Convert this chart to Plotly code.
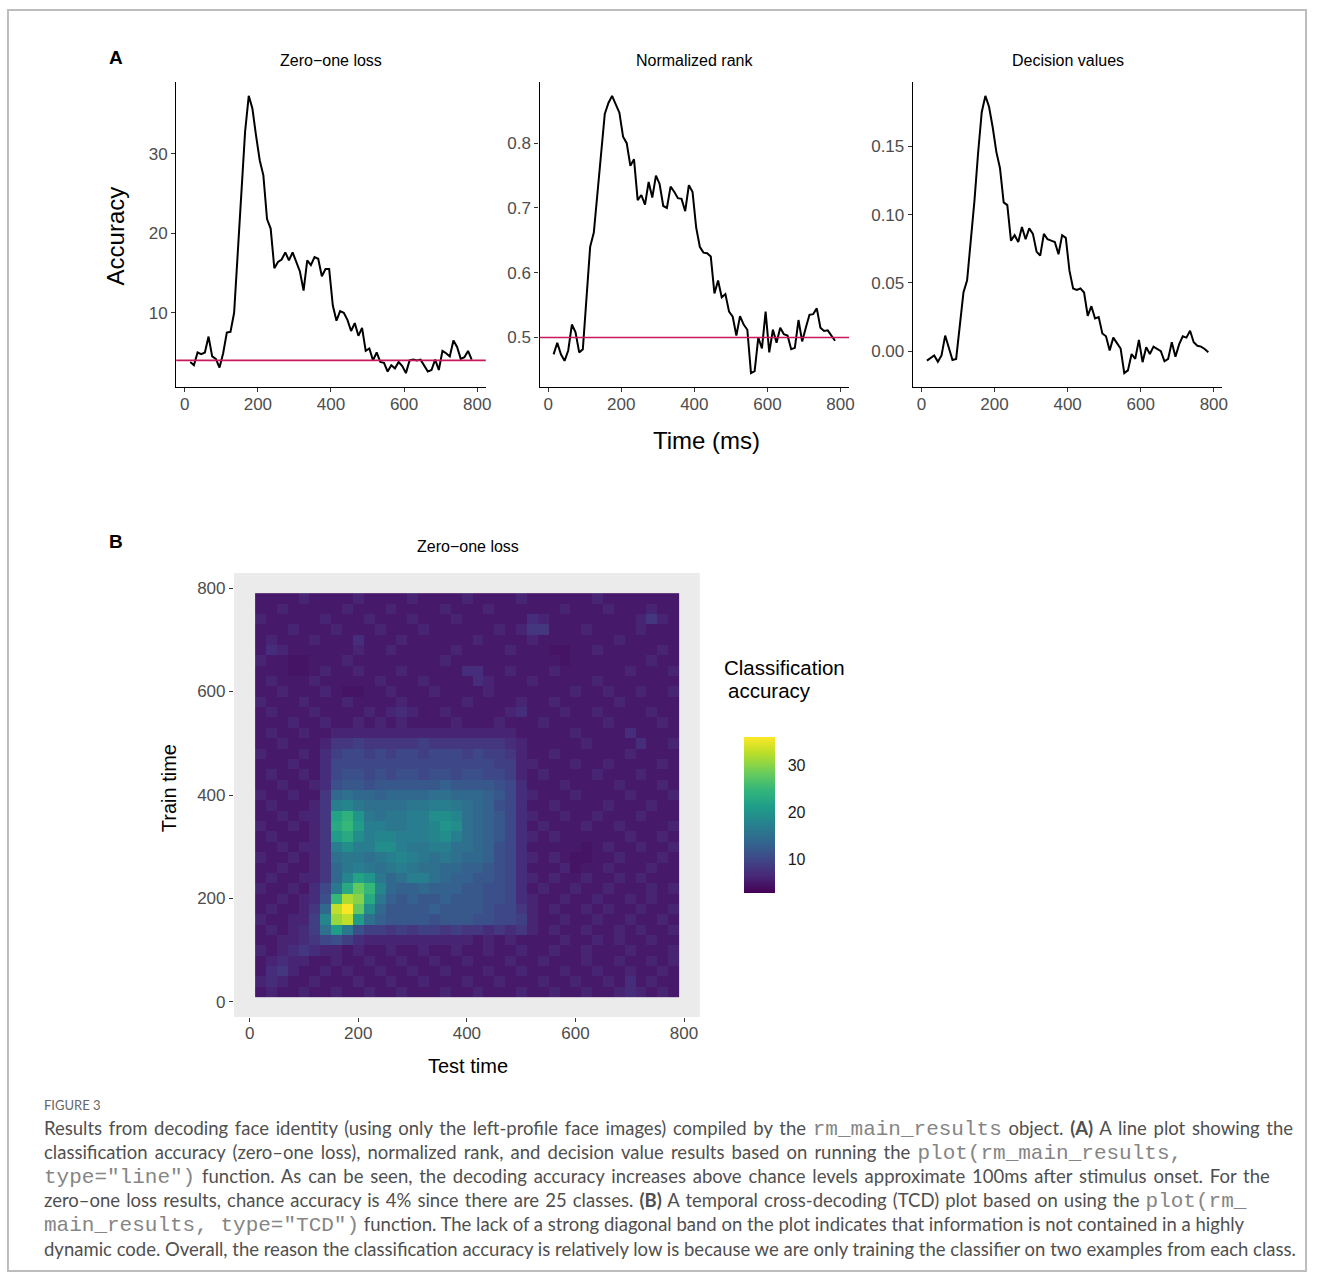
import plotly.graph_objects as go

W, H = 1320, 1280

# ---------------------------------------------------------------- data
# decoding time bins (ms, bin centres)
times = list(range(15, 790, 10))

zero_one_loss = [
    3.8, 3.4, 5.0, 4.8, 5.0, 7.0, 4.5, 4.2, 3.1, 4.9,
    7.5, 7.6, 10.0, 17.5, 26.0, 32.8, 37.3, 35.7, 32.3, 29.2,
    27.3, 21.8, 20.6, 15.6, 16.4, 16.7, 17.6, 16.6, 17.6, 16.5,
    15.2, 12.8, 16.6, 16.0, 17.0, 16.8, 14.6, 15.5, 15.5, 10.9,
    9.0, 10.2, 10.0, 9.1, 7.7, 8.7, 7.1, 8.1, 5.2, 5.5,
    4.0, 5.0, 3.8, 3.7, 2.6, 3.4, 3.0, 3.8, 3.3, 2.4,
    4.0, 4.1, 4.0, 4.1, 3.4, 2.6, 2.8, 4.1, 2.8, 5.2,
    4.9, 4.5, 6.5, 5.7, 4.2, 4.4, 5.2, 4.1,
]

normalized_rank = [
    0.474, 0.492, 0.474, 0.464, 0.480, 0.520, 0.508, 0.477, 0.482, 0.570,
    0.640, 0.662, 0.720, 0.790, 0.845, 0.862, 0.873, 0.860, 0.847, 0.810,
    0.800, 0.765, 0.775, 0.712, 0.720, 0.705, 0.740, 0.716, 0.750, 0.737,
    0.703, 0.700, 0.733, 0.725, 0.715, 0.714, 0.695, 0.735, 0.725, 0.670,
    0.640, 0.631, 0.630, 0.625, 0.568, 0.588, 0.562, 0.567, 0.540, 0.532,
    0.503, 0.533, 0.520, 0.512, 0.445, 0.448, 0.500, 0.483, 0.540, 0.477,
    0.512, 0.492, 0.515, 0.505, 0.503, 0.482, 0.484, 0.527, 0.494, 0.515,
    0.535, 0.536, 0.545, 0.515, 0.510, 0.511, 0.502, 0.495,
]

decision_values = [
    -0.0068, -0.0050, -0.0030, -0.0076, -0.0030, 0.0115, 0.0030, -0.0064, -0.0056, 0.0176,
    0.043, 0.052, 0.079, 0.110, 0.145, 0.175, 0.187, 0.179, 0.164, 0.146,
    0.134, 0.109, 0.107, 0.081, 0.085, 0.080, 0.091, 0.082, 0.090, 0.086,
    0.073, 0.070, 0.086, 0.082, 0.081, 0.080, 0.071, 0.085, 0.083, 0.059,
    0.046, 0.045, 0.046, 0.043, 0.026, 0.033, 0.024, 0.025, 0.013, 0.011,
    0.0005, 0.010, 0.006, 0.002, -0.016, -0.014, -0.002, -0.0056, 0.0083, -0.008,
    0.003, -0.002, 0.0034, 0.0017, 0.0, -0.0073, -0.0056, 0.0066, -0.004, 0.005,
    0.011, 0.010, 0.015, 0.0066, 0.004, 0.0034, 0.0017, -0.0007,
]

# chance level for zero-one loss (25 classes) and normalized rank
chance_zero_one = 4
chance_rank = 0.5

panel_titles = ["Zero\u2212one loss", "Normalized rank", "Decision values"]
time_ticks = [0, 200, 400, 600, 800]

# temporal cross-decoding accuracy, 20 ms blocks:
# one row per train time (20 ... 780 ms), one column per test time (20 ... 780 ms)
tcd_times = list(range(20, 790, 20))
tcd_accuracy = [
    [5, 6, 5, 5, 6, 5, 5, 6, 5, 5, 6, 5, 5, 6, 5, 5, 5, 6, 5, 5, 6, 5, 5, 5, 6, 5, 5, 6, 5, 5, 6, 5, 5, 6, 7, 6, 5, 6, 5],
    [6, 7, 6, 5, 5, 6, 5, 5, 5, 6, 5, 5, 6, 5, 5, 6, 5, 5, 5, 6, 5, 5, 6, 5, 5, 5, 6, 5, 5, 6, 5, 5, 6, 5, 7, 5, 6, 5, 5],
    [5, 7, 8, 6, 5, 5, 6, 5, 6, 5, 5, 6, 5, 5, 6, 5, 5, 6, 5, 5, 5, 6, 5, 5, 6, 5, 5, 5, 6, 5, 5, 6, 5, 5, 6, 5, 5, 6, 5],
    [5, 6, 7, 6, 6, 5, 5, 6, 5, 5, 6, 5, 5, 6, 5, 5, 6, 5, 5, 6, 5, 5, 5, 6, 5, 5, 6, 5, 5, 5, 6, 5, 5, 6, 5, 5, 6, 5, 6],
    [6, 5, 6, 7, 8, 7, 6, 6, 5, 6, 5, 5, 6, 5, 5, 6, 5, 5, 6, 5, 5, 6, 5, 5, 6, 5, 5, 6, 5, 5, 6, 5, 5, 5, 6, 5, 5, 5, 6],
    [5, 5, 6, 6, 7, 8, 10, 11, 9, 7, 6, 6, 6, 6, 6, 6, 6, 6, 6, 6, 5, 6, 5, 6, 5, 5, 5, 5, 6, 5, 5, 6, 5, 6, 5, 5, 6, 5, 5],
    [5, 6, 5, 6, 7, 9, 15, 21, 16, 11, 9, 9, 8, 9, 8, 9, 9, 8, 9, 8, 8, 7, 8, 7, 8, 6, 5, 6, 5, 5, 6, 5, 5, 6, 5, 6, 5, 5, 6],
    [6, 5, 5, 6, 6, 9, 18, 31, 33, 21, 15, 13, 12, 12, 12, 12, 11, 12, 12, 12, 11, 11, 10, 10, 9, 6, 5, 5, 6, 5, 5, 6, 5, 5, 6, 5, 5, 6, 5],
    [5, 6, 5, 5, 6, 8, 14, 33, 36, 28, 19, 14, 12, 12, 12, 12, 13, 12, 12, 12, 12, 11, 10, 10, 8, 6, 5, 6, 5, 5, 6, 5, 6, 5, 5, 6, 5, 5, 6],
    [5, 5, 6, 5, 6, 7, 11, 25, 32, 30, 23, 16, 13, 12, 13, 12, 12, 13, 12, 12, 12, 11, 11, 10, 7, 6, 5, 5, 6, 5, 5, 6, 5, 5, 6, 5, 6, 5, 5],
    [6, 5, 5, 6, 5, 7, 10, 16, 23, 28, 25, 18, 14, 13, 13, 14, 13, 13, 13, 12, 12, 11, 11, 10, 7, 5, 6, 5, 5, 6, 5, 5, 6, 5, 5, 5, 6, 5, 6],
    [5, 6, 5, 5, 6, 6, 8, 14, 18, 22, 20, 16, 14, 15, 17, 17, 15, 14, 13, 13, 12, 12, 11, 10, 7, 6, 5, 6, 5, 5, 6, 5, 5, 6, 5, 6, 5, 5, 5],
    [5, 5, 6, 5, 5, 6, 8, 14, 16, 17, 16, 15, 16, 17, 16, 15, 15, 14, 14, 13, 13, 12, 11, 10, 7, 5, 5, 5, 6, 4.5, 5, 5, 6, 5, 5, 5, 6, 5, 5],
    [6, 5, 5, 6, 5, 6, 8, 15, 16, 16, 15, 16, 17, 18, 17, 16, 15, 16, 15, 14, 14, 13, 11, 10, 7, 6, 5, 6, 5, 4.5, 4.5, 5, 5, 6, 5, 5, 5, 6, 5],
    [5, 5, 6, 5, 6, 6, 8, 17, 19, 17, 17, 19, 19, 17, 16, 16, 17, 17, 15, 15, 14, 13, 11, 10, 7, 5, 5, 5, 5, 5, 4.5, 5, 6, 5, 5, 6, 5, 5, 6],
    [5, 6, 5, 5, 5, 6, 8, 21, 23, 19, 17, 18, 18, 17, 17, 17, 18, 19, 17, 15, 14, 13, 12, 10, 7, 6, 5, 6, 5, 5, 5, 5, 5, 5, 6, 5, 5, 6, 5],
    [6, 5, 5, 6, 5, 6, 8, 23, 25, 21, 17, 17, 16, 16, 17, 17, 18, 20, 19, 15, 14, 13, 12, 10, 7, 5, 6, 5, 5, 5, 6, 5, 5, 6, 5, 5, 5, 5, 6],
    [5, 5, 6, 5, 6, 6, 8, 22, 24, 20, 16, 15, 16, 16, 17, 17, 19, 19, 18, 15, 14, 13, 12, 10, 7, 6, 5, 5, 6, 5, 5, 6, 5, 5, 5, 6, 5, 5, 5],
    [5, 6, 5, 5, 5, 6, 8, 17, 18, 16, 15, 15, 15, 15, 16, 16, 17, 17, 16, 15, 14, 13, 11, 10, 7, 5, 5, 6, 5, 5, 5, 5, 6, 5, 5, 5, 6, 5, 5],
    [6, 5, 5, 6, 5, 5, 8, 14, 15, 14, 14, 13, 14, 14, 14, 14, 15, 15, 14, 14, 14, 13, 12, 10, 7, 6, 5, 5, 5, 6, 5, 5, 5, 5, 6, 5, 5, 5, 6],
    [5, 5, 6, 5, 5, 6, 7, 11, 12, 12, 11, 12, 12, 12, 12, 12, 12, 13, 12, 12, 12, 12, 11, 10, 7, 5, 5, 5, 6, 5, 5, 5, 5, 6, 5, 5, 5, 6, 5],
    [5, 6, 5, 5, 6, 5, 7, 10, 11, 11, 10, 11, 10, 11, 11, 10, 11, 11, 10, 11, 11, 10, 10, 9, 6, 5, 6, 5, 5, 5, 5, 6, 5, 5, 5, 6, 5, 5, 5],
    [5, 5, 5, 6, 5, 5, 7, 10, 10, 10, 10, 10, 10, 10, 10, 10, 10, 10, 10, 10, 10, 10, 9, 9, 6, 6, 5, 5, 5, 6, 5, 5, 6, 5, 5, 5, 5, 6, 5],
    [6, 5, 5, 5, 6, 5, 7, 9, 10, 10, 9, 10, 9, 10, 10, 9, 10, 10, 10, 9, 10, 9, 9, 8, 6, 5, 5, 6, 5, 5, 5, 5, 5, 5, 6, 5, 5, 5, 5],
    [5, 5, 6, 5, 5, 5, 6, 8, 8, 9, 8, 8, 8, 8, 8, 9, 8, 8, 8, 8, 8, 8, 8, 7, 6, 5, 5, 5, 5, 5, 6, 5, 5, 5, 5, 7, 5, 5, 6],
    [5, 6, 5, 5, 6, 5, 5, 6, 6, 6, 6, 6, 6, 6, 6, 6, 6, 6, 6, 6, 6, 6, 6, 6, 5, 5, 5, 5, 5, 6, 5, 5, 5, 5, 7, 5, 5, 5, 5],
    [5, 5, 5, 6, 5, 5, 6, 5, 5, 6, 5, 6, 5, 6, 5, 5, 5, 5, 6, 5, 5, 5, 6, 5, 5, 5, 6, 5, 5, 5, 5, 5, 6, 5, 5, 5, 5, 6, 5],
    [5, 6, 5, 5, 5, 6, 5, 5, 5, 5, 6, 5, 6, 7, 6, 5, 5, 6, 5, 5, 5, 5, 5, 6, 7, 5, 5, 5, 6, 5, 5, 6, 5, 5, 5, 5, 6, 5, 5],
    [6, 5, 5, 5, 6, 5, 5, 5, 6, 5, 5, 5, 5, 6, 5, 5, 5, 5, 5, 6, 5, 5, 5, 5, 6, 5, 5, 6, 5, 5, 5, 5, 5, 6, 5, 5, 5, 5, 5],
    [5, 5, 6, 5, 5, 5, 6, 5, 4.5, 4.5, 5, 5, 6, 5, 5, 5, 6, 5, 5, 5, 5, 6, 5, 5, 5, 5, 5, 5, 5, 6, 5, 5, 6, 5, 5, 6, 5, 5, 6],
    [5, 6, 5, 5, 5, 6, 5, 5, 5, 5, 5, 6, 5, 5, 5, 6, 5, 5, 5, 5, 7, 6, 5, 5, 5, 6, 5, 5, 5, 5, 5, 6, 5, 5, 5, 5, 5, 5, 5],
    [5, 5, 5, 4.5, 4.5, 5, 6, 5, 5, 6, 5, 5, 5, 6, 5, 5, 5, 5, 5, 7, 7, 5, 5, 6, 5, 5, 5, 6, 5, 5, 5, 5, 5, 5, 6, 5, 5, 5, 6],
    [6, 5, 5, 4.5, 4.5, 5, 5, 5, 6, 5, 5, 5, 5, 5, 5, 5, 5, 6, 5, 5, 5, 5, 5, 5, 5, 5, 5, 5, 4.5, 5, 5, 5, 5, 5, 5, 5, 6, 5, 5],
    [5, 7, 6, 5, 5, 5, 5, 5, 5, 6, 5, 5, 6, 5, 5, 5, 5, 5, 6, 5, 5, 5, 5, 6, 5, 5, 5, 4.5, 4.5, 5, 5, 6, 5, 5, 5, 5, 5, 6, 5],
    [5, 6, 5, 5, 5, 6, 5, 5, 5, 7, 5, 5, 5, 6, 5, 5, 5, 5, 5, 5, 6, 5, 5, 5, 5, 6, 5, 5, 5, 5, 5, 5, 5, 6, 5, 5, 5, 5, 5],
    [5, 5, 5, 6, 5, 5, 5, 6, 5, 5, 5, 6, 5, 5, 5, 6, 5, 5, 5, 5, 5, 5, 6, 5, 6, 8, 8, 5, 5, 5, 6, 5, 5, 5, 5, 6, 5, 5, 5],
    [6, 5, 5, 5, 5, 5, 6, 5, 5, 5, 6, 5, 5, 5, 6, 5, 5, 5, 6, 5, 5, 5, 5, 5, 5, 7, 6, 5, 5, 5, 5, 5, 5, 5, 5, 6, 8, 6, 5],
    [5, 5, 6, 5, 5, 5, 5, 5, 6, 5, 5, 5, 6, 5, 5, 5, 5, 6, 5, 5, 5, 6, 5, 5, 5, 5, 5, 5, 6, 5, 5, 5, 6, 5, 5, 5, 6, 5, 5],
    [5, 5, 5, 5, 6, 5, 5, 5, 5, 6, 5, 5, 5, 5, 6, 5, 5, 5, 5, 6, 5, 5, 5, 5, 6, 5, 5, 5, 5, 5, 5, 6, 5, 5, 5, 5, 5, 5, 5],
]
assert len(tcd_accuracy) == len(tcd_times)
assert all(len(row) == len(tcd_times) for row in tcd_accuracy)

colour_limits = [2.7, 36.2]
colour_ticks = [10, 20, 30]

# ---------------------------------------------------------------- helpers
FONT = "Liberation Sans, Arial, sans-serif"
TICK_GREY = "#4D4D4D"
CHANCE_RED = "#C8195C"


def px(x):
    return x / W


def py(y):
    return 1 - y / H


def expand(values, frac=0.05):
    lo, hi = min(values), max(values)
    pad = (hi - lo) * frac
    return [lo - pad, hi + pad]


def label(x, y, text, size, angle=0, bold=False, xanchor="center",
          color="black", align="center", family=FONT):
    fig.add_annotation(
        x=px(x), y=py(y), xref="paper", yref="paper",
        text=f"<b>{text}</b>" if bold else text,
        showarrow=False, textangle=angle, xanchor=xanchor, yanchor="middle",
        align=align, font=dict(family=family, size=size, color=color),
    )


fig = go.Figure()

# ---------------------------------------------------------------- panel A
series = [zero_one_loss, normalized_rank, decision_values]
x_left = [177, 542, 917]
panel_w = 311
y_formats = ["d", ".1f", ".2f"]
y_ticks = [[10, 20, 30], [0.5, 0.6, 0.7, 0.8], [0.0, 0.05, 0.10, 0.15]]

for k, vals in enumerate(series):
    sfx = "" if k == 0 else str(k + 1)
    xa, ya = f"x{sfx}", f"y{sfx}"
    fig.add_trace(go.Scatter(
        x=times, y=vals, mode="lines", xaxis=xa, yaxis=ya,
        line=dict(color="black", width=2), showlegend=False,
        hoverinfo="x+y",
    ))
    common = dict(
        showline=True, linecolor="black", linewidth=1.3,
        ticks="outside", ticklen=4, tickwidth=1.1, tickcolor="#333333",
        tickfont=dict(family=FONT, size=17, color=TICK_GREY),
        showgrid=False, zeroline=False,
    )
    fig.layout[f"xaxis{sfx}"] = dict(
        domain=[px(x_left[k]), px(x_left[k] + panel_w)],
        range=expand(times), tickvals=time_ticks, ticklabelstandoff=-3,
        anchor=ya, **common,
    )
    fig.layout[f"yaxis{sfx}"] = dict(
        domain=[py(387), py(82)], range=expand(vals),
        tickvals=y_ticks[k], tickformat=y_formats[k],
        anchor=xa, **common,
    )
    label(x_left[k] + panel_w / 2, 60, panel_titles[k], 16)

for sfx, level in [("", chance_zero_one), ("2", chance_rank)]:
    fig.add_shape(
        type="line", xref=f"x{sfx} domain", yref=f"y{sfx}",
        x0=0, x1=1, y0=level, y1=level,
        line=dict(color=CHANCE_RED, width=1.6),
    )

# ---------------------------------------------------------------- panel B
fig.add_trace(go.Heatmap(
    x=tcd_times, y=tcd_times, z=tcd_accuracy,
    xaxis="x4", yaxis="y4",
    colorscale="Viridis", zmin=colour_limits[0], zmax=colour_limits[1],
    colorbar=dict(
        x=px(747), xanchor="left", y=py(893), yanchor="bottom",
        len=156, lenmode="pixels", thickness=31, thicknessmode="pixels",
        outlinewidth=0, xpad=0, ypad=0,
        tickvals=colour_ticks, ticks="outside", ticklen=10,
        tickcolor="rgba(0,0,0,0)",
        tickfont=dict(family=FONT, size=16, color="#1A1A1A"),
    ),
    hovertemplate="test %{x} ms<br>train %{y} ms<br>%{z}<extra></extra>",
))

# inside tick marks on the colour bar
for v in colour_ticks:
    frac = (v - colour_limits[0]) / (colour_limits[1] - colour_limits[0])
    yv = py(893) + frac * 156 / H
    fig.add_shape(
        type="line", xref="paper", yref="paper",
        x0=px(759), x1=px(766), y0=yv, y1=yv,
        line=dict(color="rgba(225,225,225,0.75)", width=1.2),
    )

half_bin = (tcd_times[1] - tcd_times[0]) / 2
tcd_extent = [tcd_times[0] - half_bin, tcd_times[-1] + half_bin]
heat_axis = dict(
    showline=False, showgrid=False, zeroline=False,
    ticks="outside", ticklen=4, tickwidth=1.1, tickcolor="#333333",
    tickfont=dict(family=FONT, size=17, color=TICK_GREY),
    tickvals=time_ticks, range=expand(tcd_extent),
)
fig.layout["xaxis4"] = dict(domain=[px(235), px(703)], anchor="y4",
                            ticklabelstandoff=-3, **heat_axis)
fig.layout["yaxis4"] = dict(domain=[py(1017), py(573)], anchor="x4", **heat_axis)

fig.add_shape(
    type="rect", xref="x4 domain", yref="y4 domain", x0=0, x1=1, y0=0, y1=1,
    fillcolor="#EBEBEB", line=dict(width=0), layer="below",
)

# ---------------------------------------------------------------- text
label(117, 58, "A", 19, bold=True)
label(117, 541, "B", 19, bold=True)
label(117, 236, "Accuracy", 24, angle=-90)
label(710, 440, "Time (ms)", 24)
label(470, 546, "Zero\u2212one loss", 16)
label(170, 788, "Train time", 20, angle=-90)
label(470, 1066, "Test time", 20)
label(725, 667, "Classification", 20.5, xanchor="left")
label(729, 690, "accuracy", 20.5, xanchor="left")

# caption: each line is a list of (text, is_code) pieces plus the extra
# word spacing used to justify the line
CAP_FONT = "Lato, 'Open Sans', sans-serif"
MONO = "font-family:'Liberation Mono',monospace;font-size:21px;color:#858585"

caption_lines = [
    ([("Results from decoding face identity (using only the left-profile face images) compiled by the ", False),
      ("rm_main_results", True),
      (" object. <b>(A)</b> A line plot showing the", False)], 2.0),
    ([("classification accuracy (zero\u2013one loss), normalized rank, and decision value results based on running the ", False),
      ("plot(rm_main_results,", True)], 2.4),
    ([('type="line")', True),
      (" function. As can be seen, the decoding accuracy increases above chance levels approximate 100ms after stimulus onset. For the", False)], 2.1),
    ([("zero\u2013one loss results, chance accuracy is 4% since there are 25 classes. <b>(B)</b> A temporal cross-decoding (TCD) plot based on using the ", False),
      ("plot(rm_", True)], 1.4),
    ([('main_results, type="TCD")', True),
      (" function. The lack of a strong diagonal band on the plot indicates that information is not contained in a highly", False)], 0.0),
    ([("dynamic code. Overall, the reason the classification accuracy is relatively low is because we are only training the classifier on two examples from each class.", False)], 0.0),
]


def caption_html(pieces, spacing):
    out = []
    for text, is_code in pieces:
        if is_code:
            out.append(f'<span style="{MONO}">{text}</span>')
        elif spacing:
            out.append(f'<span style="word-spacing:{spacing}px">{text}</span>')
        else:
            out.append(text)
    return "".join(out)


label(42, 1105, "FIGURE 3", 13, xanchor="left", color="#666666", family=CAP_FONT)
for i, (pieces, spacing) in enumerate(caption_lines):
    label(42, 1129 + 24 * i, caption_html(pieces, spacing), 18.5, xanchor="left",
          align="left", color="#4F4F4F", family=CAP_FONT)

# figure frame
fig.add_shape(
    type="rect", xref="paper", yref="paper",
    x0=px(8), x1=px(1312), y0=py(1271), y1=py(10),
    line=dict(color="#BDBDBD", width=2), fillcolor="rgba(0,0,0,0)",
)

fig.update_layout(
    width=W, height=H, margin=dict(l=0, r=0, t=0, b=0),
    paper_bgcolor="white", plot_bgcolor="white",
    font=dict(family=FONT), showlegend=False,
)

fig.write_html("out.html")
